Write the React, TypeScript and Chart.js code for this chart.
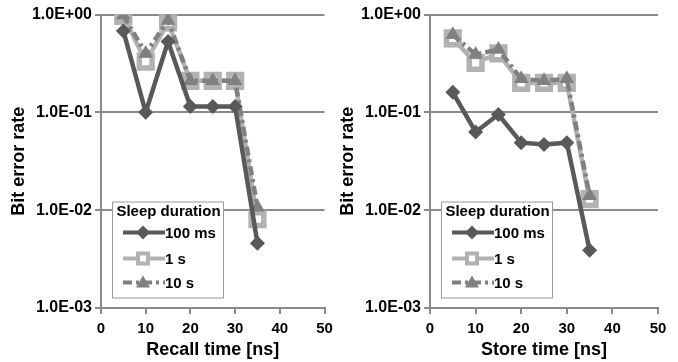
import React, { useEffect, useRef } from "react";
import { Chart, registerables } from "chart.js";

Chart.register(...registerables);

// ---- data ----
const xValues = [5, 10, 15, 20, 25, 30, 35];
const seriesNames = ["100 ms", "1 s", "10 s"];
const legendTitle = "Sleep duration";

const recall100ms = [0.68, 0.1, 0.53, 0.115, 0.115, 0.115, 0.0046];
const recall1s = [0.97, 0.33, 0.83, 0.21, 0.21, 0.21, 0.0081];
const recall10s = [0.98, 0.4, 0.87, 0.21, 0.21, 0.21, 0.0107];

const store100ms = [0.16, 0.063, 0.095, 0.049, 0.047, 0.049, 0.0039];
const store1s = [0.57, 0.32, 0.4, 0.2, 0.2, 0.2, 0.013];
const store10s = [0.62, 0.39, 0.44, 0.22, 0.21, 0.22, 0.014];

const yTickValues = [0.001, 0.01, 0.1, 1];
const yTickLabels = ["1.0E-03", "1.0E-02", "1.0E-01", "1.0E+00"];
const xTickValues = [0, 10, 20, 30, 40, 50];
const yTitle = "Bit error rate";
const xTitleLeft = "Recall time [ns]";
const xTitleRight = "Store time [ns]";

// ---- styles ----
const FONT = "'Liberation Sans', Arial, sans-serif";
const C100 = "#595959";
const C1 = "#b2b2b2";
const C10 = "#808080";
const GRID = "#8a8a8a";
const DASH10 = [9, 4, 3, 4];

const styles = [
  { color: C100, fill: C100, shape: "diamond", dash: [] as number[], order: 0 },
  { color: C1, fill: "#ffffff", shape: "square", dash: [] as number[], order: 2 },
  { color: C10, fill: C10, shape: "triangle", dash: DASH10, order: 1 },
];

function drawMarker(ctx: CanvasRenderingContext2D, shape: string, x: number, y: number, color: string, fill: string) {
  ctx.save();
  ctx.setLineDash([]);
  if (shape === "diamond") {
    ctx.beginPath();
    ctx.moveTo(x, y - 7);
    ctx.lineTo(x + 7, y);
    ctx.lineTo(x, y + 7);
    ctx.lineTo(x - 7, y);
    ctx.closePath();
    ctx.fillStyle = color;
    ctx.fill();
  } else if (shape === "square") {
    ctx.fillStyle = fill;
    ctx.strokeStyle = color;
    ctx.lineWidth = 4;
    ctx.fillRect(x - 5, y - 5, 10, 10);
    ctx.strokeRect(x - 5, y - 5, 10, 10);
  } else {
    ctx.beginPath();
    ctx.moveTo(x, y - 7);
    ctx.lineTo(x + 7, y + 5);
    ctx.lineTo(x - 7, y + 5);
    ctx.closePath();
    ctx.fillStyle = color;
    ctx.fill();
  }
  ctx.restore();
}

const legendPlugin = {
  id: "boxLegend",
  afterDraw(chart: any) {
    const { ctx, chartArea } = chart;
    const bx = chartArea.left + 11;
    const by = chartArea.top + 187;
    const bw = 111;
    const bh = 96;
    ctx.save();
    ctx.fillStyle = "#ffffff";
    ctx.fillRect(bx, by, bw, bh);
    ctx.strokeStyle = "#9a9a9a";
    ctx.lineWidth = 1;
    ctx.strokeRect(bx + 0.5, by + 0.5, bw, bh);
    ctx.fillStyle = "#000";
    ctx.font = `bold 15px ${FONT}`;
    ctx.textBaseline = "middle";
    ctx.textAlign = "center";
    ctx.fillText(legendTitle, bx + bw / 2 + 1, by + 10);
    ctx.textAlign = "left";
    const rows = [31, 57, 81];
    seriesNames.forEach((name, i) => {
      const s = styles[i];
      const y = by + rows[i];
      ctx.save();
      ctx.strokeStyle = s.color;
      ctx.lineWidth = 4;
      ctx.setLineDash(s.dash);
      ctx.beginPath();
      ctx.moveTo(bx + 11, y);
      ctx.lineTo(bx + 53, y);
      ctx.stroke();
      ctx.restore();
      drawMarker(ctx, s.shape, bx + 31, y, s.color, s.fill);
      ctx.fillStyle = "#000";
      ctx.font = `bold 15px ${FONT}`;
      ctx.fillText(name, bx + 53, y + 1);
    });
    ctx.restore();
  },
};

function makeDataset(i: number, values: number[]) {
  const s = styles[i];
  const pointStyle = s.shape === "diamond" ? "rectRot" : s.shape === "square" ? "rect" : "triangle";
  const radius = s.shape === "square" ? 9 : s.shape === "triangle" ? 8.5 : 7.5;
  return {
    label: seriesNames[i],
    data: xValues.map((x, k) => ({ x, y: values[k] })),
    borderColor: s.color,
    backgroundColor: s.fill,
    borderWidth: 4.5,
    borderDash: s.dash,
    pointStyle,
    pointRadius: radius,
    pointBorderWidth: s.shape === "square" ? 5.5 : 0,
    pointBorderColor: s.color,
    pointBackgroundColor: s.shape === "square" ? "#ffffff" : s.color,
    order: s.order,
    tension: 0,
  };
}

function LogChart(props: { series: number[][]; xTitle: string; left: number; width: number; rightPad: number }) {
  const ref = useRef<HTMLCanvasElement | null>(null);
  useEffect(() => {
    if (!ref.current) return;
    const chart = new Chart(ref.current, {
      type: "line",
      data: {
        datasets: props.series.map((v, i) => makeDataset(i, v)) as any,
      },
      options: {
        animation: false,
        responsive: false,
        maintainAspectRatio: false,
        layout: { padding: { top: 13, right: props.rightPad, bottom: 0, left: 0 } },
        plugins: { legend: { display: false }, tooltip: { enabled: false } },
        scales: {
          x: {
            type: "linear",
            min: 0,
            max: 50,
            afterBuildTicks: (scale: any) => {
              scale.ticks = xTickValues.map((v) => ({ value: v }));
            },
            afterFit: (scale: any) => {
              scale.height = 54;
            },
            ticks: {
              color: "#000",
              font: { family: FONT, size: 15, weight: "bold" },
              padding: 6,
              maxRotation: 0,
            },
            grid: {
              drawOnChartArea: false,
              drawTicks: true,
              tickLength: 6,
              color: GRID,
              lineWidth: 2,
            },
            border: { color: GRID, width: 2 },
            title: {
              display: true,
              text: props.xTitle,
              color: "#000",
              font: { family: FONT, size: 18, weight: "bold" },
              padding: { top: 0, bottom: 1 },
            },
          },
          y: {
            type: "logarithmic",
            min: 0.001,
            max: 1,
            afterBuildTicks: (scale: any) => {
              scale.ticks = yTickValues.map((v) => ({ value: v }));
            },
            afterFit: (scale: any) => {
              scale.width = 101;
            },
            ticks: {
              color: "#000",
              font: { family: FONT, size: 16, weight: "bold" },
              padding: 3,
              callback: (value: any) => {
                const idx = yTickValues.findIndex((t) => Math.abs(Math.log10(t) - Math.log10(Number(value))) < 1e-6);
                return idx >= 0 ? yTickLabels[idx] : "";
              },
            },
            grid: {
              drawOnChartArea: true,
              drawTicks: true,
              tickLength: 6,
              color: GRID,
              lineWidth: 2,
            },
            border: { color: GRID, width: 2 },
            title: {
              display: true,
              text: yTitle,
              color: "#000",
              font: { family: FONT, size: 18, weight: "bold" },
              padding: { top: 8, bottom: 0 },
            },
          },
        },
      } as any,
      plugins: [legendPlugin],
    });
    return () => chart.destroy();
  }, []);
  return (
    <canvas
      ref={ref}
      width={props.width}
      height={362}
      style={{ position: "absolute", left: props.left, top: 0, width: props.width, height: 362 }}
    />
  );
}

export default function App() {
  return (
    <div style={{ position: "fixed", left: 0, top: 0, width: 678, height: 362, background: "#fff", overflow: "hidden" }}>
      <LogChart series={[recall100ms, recall1s, recall10s]} xTitle={xTitleLeft} left={0} width={339} rightPad={10} />
      <LogChart series={[store100ms, store1s, store10s]} xTitle={xTitleRight} left={329} width={349} rightPad={20} />
    </div>
  );
}
